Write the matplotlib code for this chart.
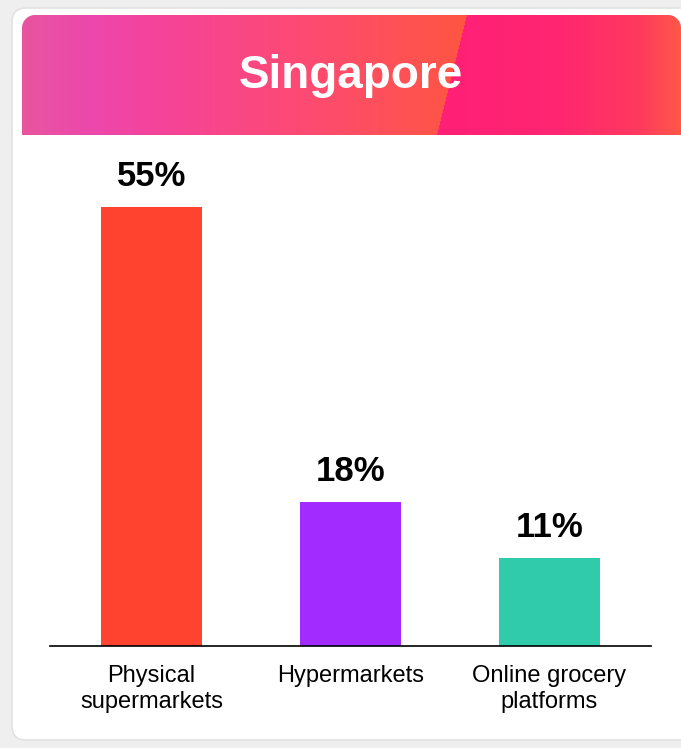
import numpy as np
import matplotlib.pyplot as plt
from matplotlib.patches import FancyBboxPatch
from matplotlib.colors import to_rgb

plt.rcParams['font.family'] = ['Liberation Sans', 'DejaVu Sans']

title = 'Singapore'
categories = ['Physical\nsupermarkets', 'Hypermarkets', 'Online grocery\nplatforms']
values = [55, 18, 11]
bar_colors = ['#ff432e', '#a22bff', '#30cbab']

W, H = 681, 748
fig = plt.figure(figsize=(W / 100, H / 100), dpi=100)
fig.patch.set_facecolor('#efefef')

# background layer in pixel coordinates
bg = fig.add_axes([0, 0, 1, 1])
bg.axis('off')

card = FancyBboxPatch((12, 8), 700, 732, boxstyle='round,pad=0,rounding_size=14',
                      facecolor='white', edgecolor='#e2e2e2', lw=1.2)
bg.add_patch(card)

# header gradient with a diagonal break, rounded top corners via alpha
hx0, hx1, hy0, hy1 = 22, 681, 15, 135
X, Y = np.meshgrid(np.arange(hx0, hx1) + 0.5, np.arange(hy0, hy1) + 0.5)
edge = 467 - (Y - hy0) / (hy1 - hy0) * 30

def ramp(x, stops):
    pos = [s[0] for s in stops]
    cols = np.array([to_rgb(s[1]) for s in stops])
    return np.stack([np.interp(x, pos, cols[:, i]) for i in range(3)], axis=-1)

left = ramp(X, [(22, '#e8559f'), (90, '#ec48ac'), (160, '#f5439a'), (300, '#fd4a74'), (470, '#ff5640')])
right = ramp(X, [(430, '#ff1f78'), (560, '#ff2670'), (640, '#ff3a5e'), (681, '#ff5848')])
img = np.where((X < edge)[..., None], left, right)

r = 13
alpha = np.ones(X.shape)
for cx in (hx0 + r, hx1 - r):
    cy = hy0 + r
    inside_corner = (np.abs(X - cx) <= r) & (Y < cy) & ((X < hx0 + r) | (X > hx1 - r))
    d = np.hypot(X - cx, Y - cy)
    alpha = np.where(inside_corner, np.clip(r + 0.5 - d, 0, 1), alpha)
img = np.dstack([img, alpha])
bg.imshow(img, extent=(hx0, hx1, hy1, hy0), aspect='auto', zorder=2, interpolation='nearest')
bg.set_xlim(0, W)
bg.set_ylim(H, 0)
bg.text(351, 88, title, color='white', fontsize=33, fontweight='bold',
        ha='center', va='baseline', zorder=3)

# bar chart
ax = fig.add_axes([50 / W, 1 - 646 / H, (651 - 50) / W, (646 - 150) / H])
ax.set_facecolor('none')
x = np.arange(len(values))
ax.bar(x, values, width=0.51, color=bar_colors)
for xi, v in zip(x, values):
    ax.text(xi, v + 2.65, f'{v}%', ha='center', va='baseline', fontsize=25, fontweight='bold')
ax.set_xlim(-0.51, 2.51)
ax.set_ylim(0, 62.2)
for s in ['top', 'right', 'left']:
    ax.spines[s].set_visible(False)
ax.spines['bottom'].set_linewidth(1.2)
ax.set_yticks([])
ax.set_xticks(x)
ax.set_xticklabels(categories, fontsize=17, linespacing=1.2, va='top')
ax.tick_params(axis='x', length=0, pad=14)

fig.savefig('out.png', dpi=100)
